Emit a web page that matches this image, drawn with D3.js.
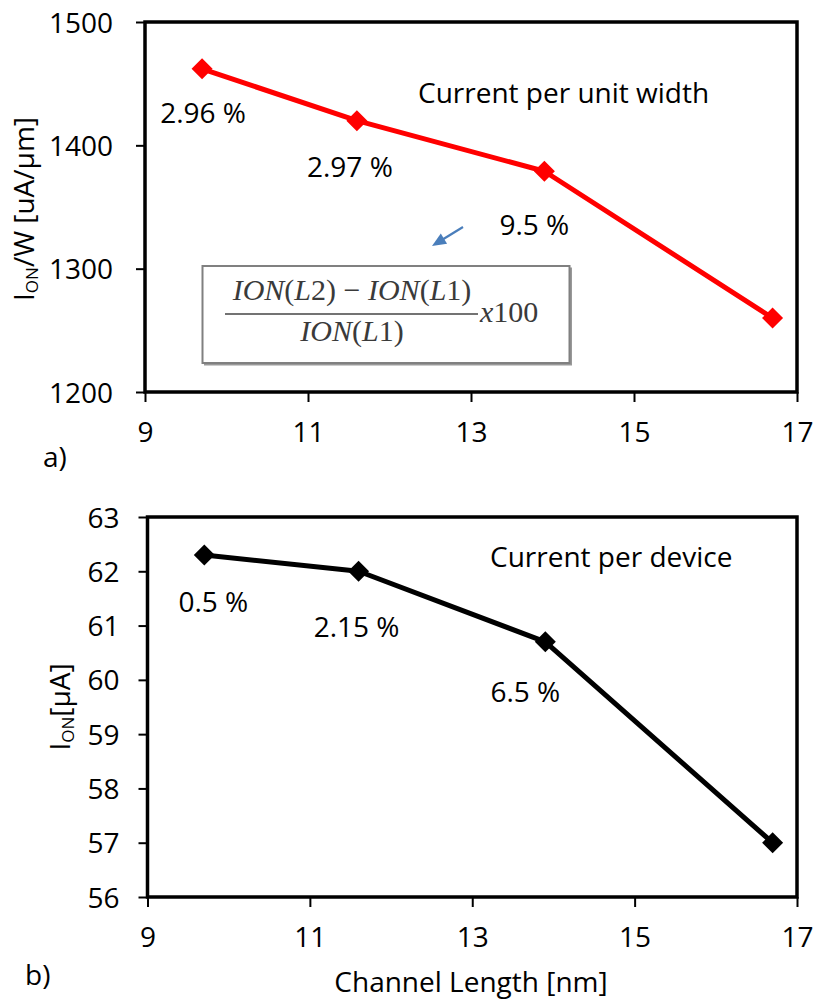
<!DOCTYPE html>
<html>
<head>
<meta charset="utf-8">
<script src="https://cdn.jsdelivr.net/npm/d3@7"></script>
<style>
html,body{margin:0;padding:0;background:#fff;}
</style>
</head>
<body>
<svg id="chart" width="814" height="1003" font-family="'Open Sans', sans-serif"></svg>
<script>
// ---- data ----
const channelLength = [9.7, 11.6, 13.9, 16.7];
const ionPerWidth = [1462, 1420, 1379, 1260];
const ionPerDevice = [62.3, 62.0, 60.7, 57.0];
const pctPerWidth = ["2.96 %", "2.97 %", "9.5 %"];
const pctPerDevice = ["0.5 %", "2.15 %", "6.5 %"];
const xTicks = [9, 11, 13, 15, 17];
const yTicksTop = [1200, 1300, 1400, 1500];
const yTicksBottom = [56, 57, 58, 59, 60, 61, 62, 63];

const svg = d3.select("#chart");
const FS = 28;
const SANS = "'Open Sans', sans-serif";

function panel(opts) {
  const {x0, x1, y0, y1, xDomain, yDomain, yTicks, xs, ys, color, labels, labelOffsets,
         tickPadY, note, noteX, noteY} = opts;
  const x = d3.scaleLinear().domain(xDomain).range([x0, x1]);
  const y = d3.scaleLinear().domain(yDomain).range([y1, y0]);
  const g = svg.append("g");

  const ya = g.append("g").attr("transform", `translate(${x0},0)`)
    .call(d3.axisLeft(y).tickValues(yTicks).tickFormat(d3.format("d"))
      .tickSize(9).tickSizeOuter(0).tickPadding(tickPadY));
  ya.attr("font-family", SANS).attr("font-size", FS);
  ya.select(".domain").remove();
  ya.selectAll(".tick line").attr("stroke", "#000").attr("stroke-width", 2);
  ya.selectAll(".tick text").attr("fill", "#000").attr("dy", "0.36em");

  const xa = g.append("g").attr("transform", `translate(0,${y1})`)
    .call(d3.axisBottom(x).tickValues(xTicks).tickFormat(d3.format("d"))
      .tickSize(10).tickSizeOuter(0).tickPadding(0));
  xa.attr("font-family", SANS).attr("font-size", FS);
  xa.select(".domain").remove();
  xa.selectAll(".tick line").attr("stroke", "#000").attr("stroke-width", 2);
  xa.selectAll(".tick text").attr("fill", "#000").attr("y", 50).attr("dy", 0);

  g.append("rect").attr("x", x0).attr("y", y0).attr("width", x1 - x0).attr("height", y1 - y0)
    .attr("fill", "none").attr("stroke", "#000").attr("stroke-width", 3.5);

  const pts = xs.map((d, i) => [x(d), y(ys[i])]);
  g.append("path").attr("d", d3.line()(pts)).attr("fill", "none")
    .attr("stroke", color).attr("stroke-width", 5).attr("stroke-linejoin", "round");
  g.selectAll(".mk").data(pts).enter().append("path")
    .attr("d", "M0,-10.5L10.5,0L0,10.5L-10.5,0Z")
    .attr("transform", d => `translate(${d[0]},${d[1]})`)
    .attr("fill", color);

  labels.forEach((t, i) => {
    g.append("text").attr("x", pts[i][0] + labelOffsets[i][0]).attr("y", pts[i][1] + labelOffsets[i][1])
      .attr("text-anchor", "middle").attr("font-size", FS).attr("fill", "#000").text(t);
  });

  g.append("text").attr("x", noteX).attr("y", noteY).attr("font-size", FS).attr("fill", "#000").text(note);
  return {x, y, g};
}

const panelA = panel({
  x0: 145, x1: 797, y0: 22, y1: 392,
  xDomain: [9, 17], yDomain: [1200, 1500], yTicks: yTicksTop,
  xs: channelLength, ys: ionPerWidth, color: "#ff0000",
  labels: pctPerWidth, labelOffsets: [[1, 54], [-7, 56], [-10, 64]],
  tickPadY: 23, note: "Current per unit width", noteX: 418, noteY: 103
});

const panelB = panel({
  x0: 147.5, x1: 797, y0: 517, y1: 897,
  xDomain: [9, 17], yDomain: [56, 63], yTicks: yTicksBottom,
  xs: channelLength, ys: ionPerDevice, color: "#000000",
  labels: pctPerDevice, labelOffsets: [[9, 57], [-2, 66], [-20, 60]],
  tickPadY: 19, note: "Current per device", noteX: 490, noteY: 567
});

const t1 = svg.append("text").attr("transform", "translate(34,209) rotate(-90)")
  .attr("text-anchor", "middle").attr("font-size", FS).attr("fill", "#000");
t1.append("tspan").text("I");
t1.append("tspan").attr("font-size", 17).attr("dy", 4).text("ON");
t1.append("tspan").attr("dy", -4).text("/W [uA/μm]");

const t2 = svg.append("text").attr("transform", "translate(70,707) rotate(-90)")
  .attr("text-anchor", "middle").attr("font-size", FS).attr("fill", "#000");
t2.append("tspan").text("I");
t2.append("tspan").attr("font-size", 17).attr("dy", 4).text("ON");
t2.append("tspan").attr("dy", -4).text("[μA]");

svg.append("text").attr("x", 471).attr("y", 992).attr("text-anchor", "middle")
  .attr("font-size", FS).attr("fill", "#000").text("Channel Length [nm]");

svg.append("text").attr("x", 43).attr("y", 467).attr("font-size", FS).attr("fill", "#000").text("a)");
svg.append("text").attr("x", 25).attr("y", 985).attr("font-size", FS).attr("fill", "#000").text("b)");

// formula box
const fb = svg.append("g");
fb.append("rect").attr("x", 204).attr("y", 267.5).attr("width", 368).attr("height", 98)
  .attr("fill", "#999");
fb.append("rect").attr("x", 202.5).attr("y", 266).attr("width", 367).attr("height", 97)
  .attr("fill", "#fff").attr("stroke", "#808080").attr("stroke-width", 2);
const serif = "'Liberation Serif','DejaVu Serif',serif";
function mathText(xc, yb, parts, anchor) {
  const t = fb.append("text").attr("x", xc).attr("y", yb).attr("text-anchor", anchor)
    .attr("font-family", serif).attr("font-size", 30).attr("fill", "#3a3a3a");
  parts.forEach(p => t.append("tspan").attr("font-style", p[1] ? "italic" : "normal").text(p[0]));
  return t;
}
mathText(352, 300, [["ION", 1], ["(", 0], ["L", 1], ["2", 0], [")", 0], [" − ", 0],
                    ["ION", 1], ["(", 0], ["L", 1], ["1", 0], [")", 0]], "middle");
mathText(352, 341, [["ION", 1], ["(", 0], ["L", 1], ["1", 0], [")", 0]], "middle");
fb.append("line").attr("x1", 225).attr("x2", 478).attr("y1", 314).attr("y2", 314)
  .attr("stroke", "#444").attr("stroke-width", 1.6);
mathText(480, 322, [["x", 1], ["100", 0]], "start");

// blue arrow
svg.append("line").attr("x1", 463).attr("y1", 227).attr("x2", 441).attr("y2", 240.5)
  .attr("stroke", "#4a7ebb").attr("stroke-width", 2.2);
svg.append("path").attr("d", "M0,0L-14,-6L-14,6Z").attr("fill", "#4a7ebb")
  .attr("transform", `translate(432,246) rotate(${Math.atan2(246 - 227, 432 - 463) * 180 / Math.PI})`);
</script>
</body>
</html>
